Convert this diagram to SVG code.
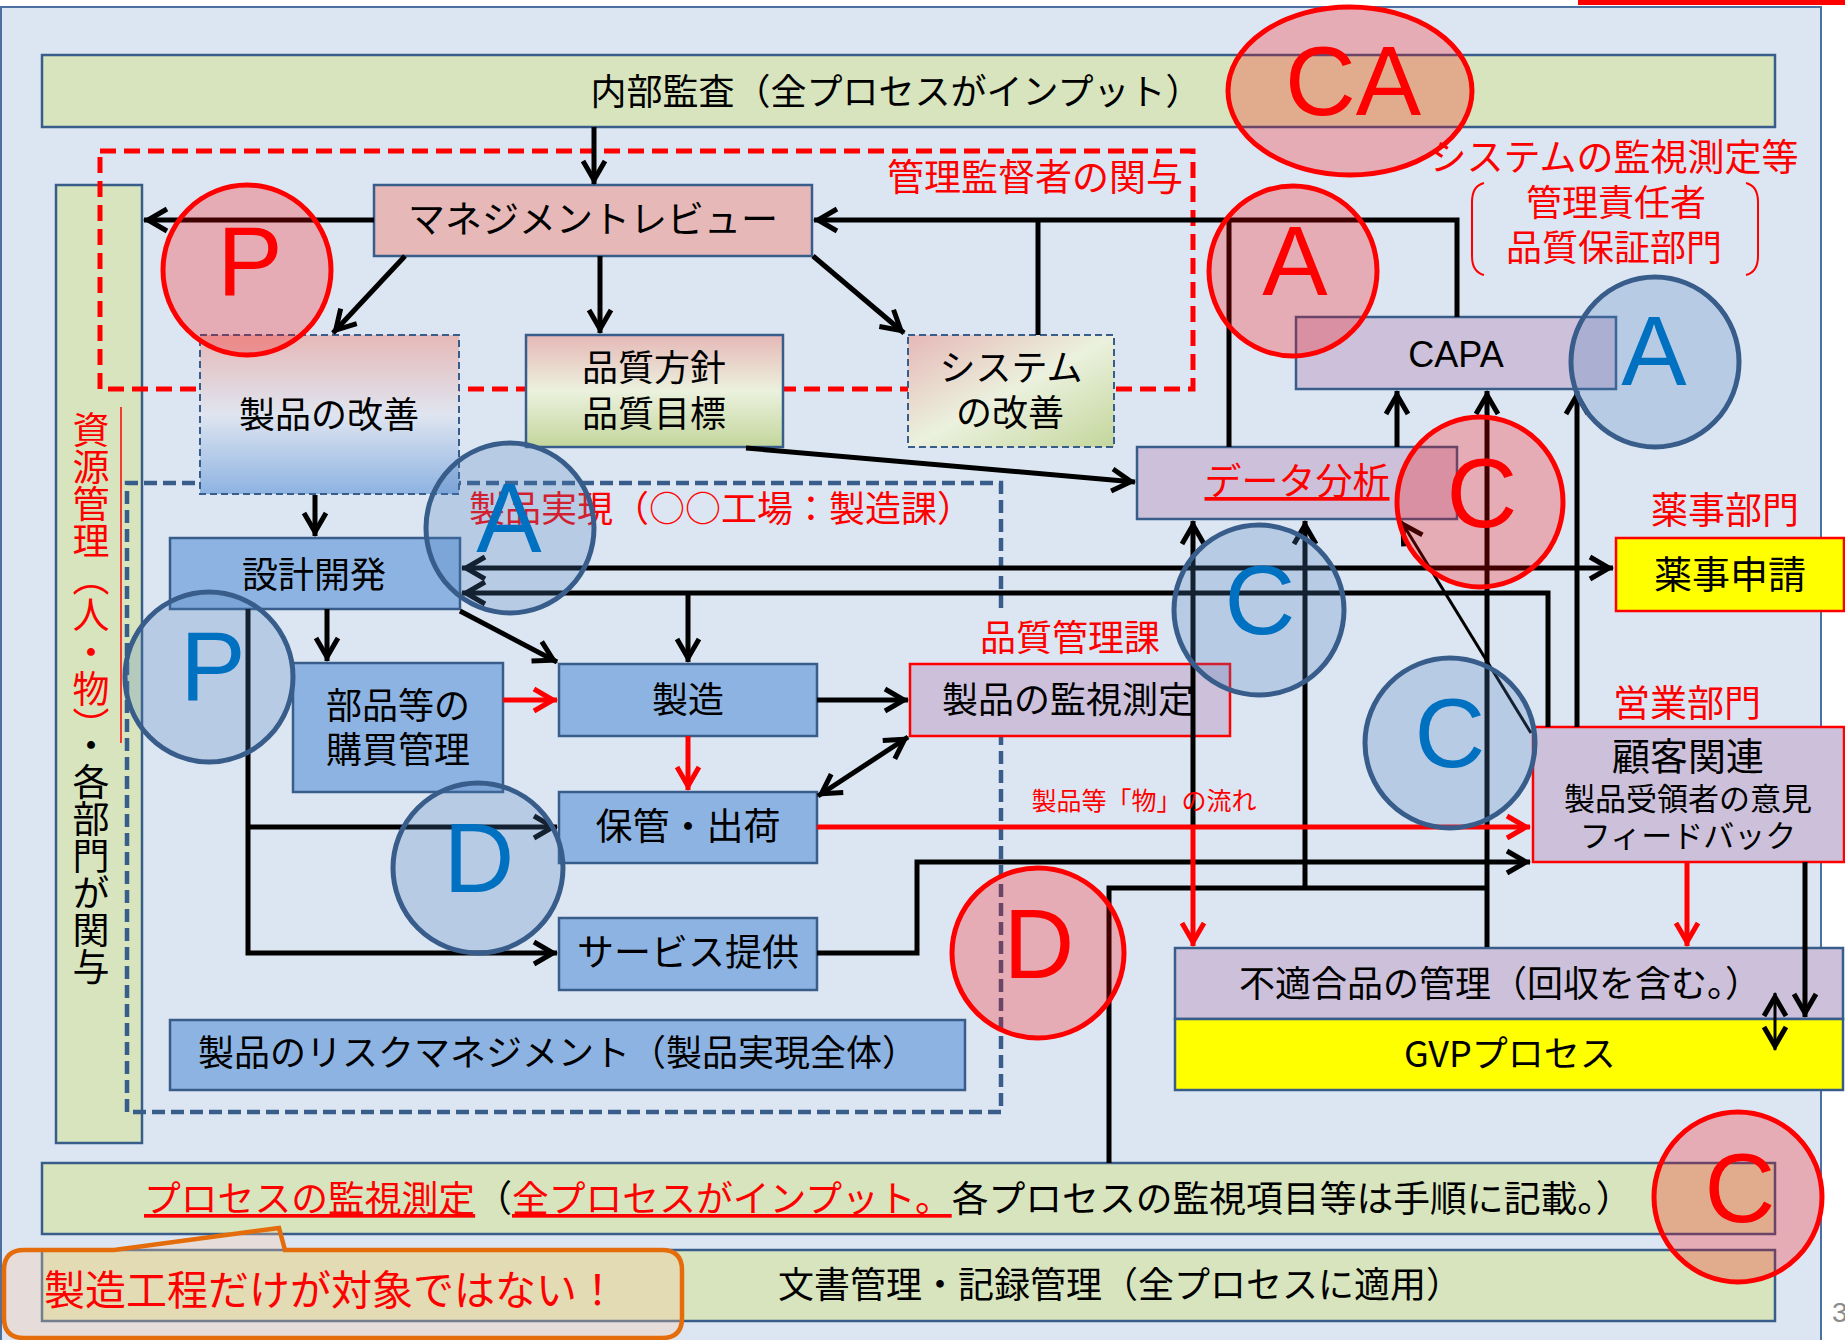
<svg xmlns="http://www.w3.org/2000/svg" width="1845" height="1340" viewBox="0 0 1845 1340">
<style>
.t{font-family:"Noto Sans CJK JP","Liberation Sans",sans-serif;font-size:36px;fill:#000;text-anchor:middle}
.r{fill:#f00}
.st{text-anchor:start}
.lat{font-family:"Liberation Sans",sans-serif}
.box{stroke:#385d8a;stroke-width:2.5}
.rb{stroke:#f00;stroke-width:2.5}
.blue{fill:#8db3e2}
.lav{fill:#ccc0da}
.grn{fill:#d7e4bd}
.yel{fill:#ffff00}
.ln{fill:none;stroke:#000;stroke-width:5}
.lt{fill:none;stroke:#000;stroke-width:3}
.lr{fill:none;stroke:#f00;stroke-width:5}
.cr{fill:#ff0000;fill-opacity:.25;stroke:#f00;stroke-width:5}
.cb{fill:#4f81bd;fill-opacity:.26;stroke:#385d8a;stroke-width:5}
.big{font-family:"Liberation Sans",sans-serif;font-size:98px;text-anchor:middle}
.bR{fill:#f00}
.bB{fill:#0070c0}
.ul{text-decoration:underline}
</style>
<defs>
<marker id="ah" viewBox="0 0 32 30" refX="26" refY="15" markerWidth="32" markerHeight="30" markerUnits="userSpaceOnUse" orient="auto-start-reverse"><path d="M3,4 L22,15 L3,26" fill="none" stroke="#000" stroke-width="5"/></marker>
<marker id="ahr" viewBox="0 0 32 30" refX="26" refY="15" markerWidth="32" markerHeight="30" markerUnits="userSpaceOnUse" orient="auto-start-reverse"><path d="M3,4 L22,15 L3,26" fill="none" stroke="#f00" stroke-width="5"/></marker>
<linearGradient id="gImp" x1="0" y1="0" x2="0" y2="1"><stop offset="0" stop-color="#e6b8b7"/><stop offset=".5" stop-color="#dfe5f0"/><stop offset="1" stop-color="#8db3e2"/></linearGradient>
<linearGradient id="gPol" x1="0" y1="0" x2="0" y2="1"><stop offset="0" stop-color="#e6b8b7"/><stop offset=".5" stop-color="#ebf1de"/><stop offset="1" stop-color="#c3d69b"/></linearGradient>
<linearGradient id="gSys" x1="0" y1="0" x2="1" y2="1"><stop offset="0" stop-color="#e6b8b7"/><stop offset=".5" stop-color="#ebf1de"/><stop offset="1" stop-color="#c3d69b"/></linearGradient>
</defs>
<rect width="1845" height="1340" fill="#fff"/>
<rect x="1578" y="0" width="267" height="5" fill="#f00"/>
<rect x="1" y="7" width="1820" height="1340" fill="#dce6f2" stroke="#4a6fa0" stroke-width="2"/>

<g id="resource">
<rect class="grn box" x="56" y="185" width="86" height="958"/>
<text class="t st" x="91" y="411" style="writing-mode:vertical-rl;font-size:37px"><tspan class="r">資源管理（人・物）</tspan><tspan>・各部門が関与</tspan></text>
<line x1="121" y1="407" x2="121" y2="743" stroke="#f00" stroke-width="1.5"/>
</g>

<g id="audit">
<rect class="grn box" x="42" y="55" width="1733" height="72"/>
<text class="t" x="896" y="105">内部監査（全プロセスがインプット）</text>
</g>

<g id="process-monitoring">
<rect class="grn box" x="42" y="1163" width="1733" height="71"/>
<text class="t st" x="144" y="1212" style="font-size:36.8px"><tspan class="r ul">プロセスの監視測定</tspan><tspan>（</tspan><tspan class="r ul">全プロセスがインプット。</tspan><tspan>各プロセスの監視項目等は手順に記載。）</tspan></text>
</g>

<g id="documents">
<rect class="grn box" x="42" y="1250" width="1733" height="71"/>
<text class="t" x="1120" y="1298">文書管理・記録管理（全プロセスに適用）</text>
</g>

<g id="management-frame">
<rect x="100" y="151" width="1093" height="238" fill="none" stroke="#f00" stroke-width="5" stroke-dasharray="16 8"/>
<text class="t r" x="1035" y="191" style="font-size:37px">管理監督者の関与</text>
</g>

<g id="realization-frame">
<path d="M1001,608 L1001,483 L127,483 L127,1112 L1001,1112 L1001,737" fill="none" stroke="#385d8a" stroke-width="4.5" stroke-dasharray="13 6"/>
<text class="t r" x="721" y="522">製品実現（○○工場：製造課）</text>
</g>

<g id="management-review">
<rect x="374" y="185" width="438" height="71" fill="#e6b8b7" class="box"/>
<text class="t" x="593" y="233" style="font-size:37px">マネジメントレビュー</text>
</g>

<g id="product-improvement">
<rect x="200" y="335" width="259" height="159" fill="url(#gImp)" stroke="#385d8a" stroke-width="2" stroke-dasharray="7 4"/>
<text class="t" x="329" y="428">製品の改善</text>
</g>

<g id="quality-policy">
<rect x="526" y="335" width="257" height="112" fill="url(#gPol)" class="box"/>
<text class="t" x="654" y="381">品質方針</text>
<text class="t" x="654" y="427">品質目標</text>
</g>

<g id="system-improvement">
<rect x="908" y="335" width="206" height="112" fill="url(#gSys)" stroke="#385d8a" stroke-width="2" stroke-dasharray="7 4"/>
<text class="t" x="1011" y="381">システム</text>
<text class="t" x="1010" y="426">の改善</text>
</g>

<g id="system-monitoring-label">
<text class="t r" x="1614" y="171" style="font-size:37px">システムの監視測定等</text>
<text class="t r" x="1616" y="216">管理責任者</text>
<text class="t r" x="1614" y="261">品質保証部門</text>
<path d="M1484,183 Q1472,186 1472,202 L1472,256 Q1472,272 1484,275" fill="none" stroke="#f00" stroke-width="2"/>
<path d="M1746,183 Q1758,186 1758,202 L1758,256 Q1758,272 1746,275" fill="none" stroke="#f00" stroke-width="2"/>
</g>

<g id="capa">
<rect class="lav box" x="1296" y="317" width="320" height="72"/>
<text class="t lat" x="1456" y="367">CAPA</text>
</g>

<g id="data-analysis">
<rect class="lav box" x="1137" y="447" width="320" height="72"/>
<text class="t r ul" x="1297" y="495" style="font-size:37px">データ分析</text>
</g>

<g id="design">
<rect class="blue box" x="170" y="538" width="290" height="71"/>
<text class="t" x="314" y="588">設計開発</text>
</g>

<g id="purchasing">
<rect class="blue box" x="293" y="663" width="210" height="129"/>
<text class="t" x="398" y="719">部品等の</text>
<text class="t" x="398" y="763">購買管理</text>
</g>

<g id="manufacturing">
<rect class="blue box" x="559" y="664" width="258" height="72"/>
<text class="t" x="688" y="713">製造</text>
</g>

<g id="storage">
<rect class="blue box" x="559" y="792" width="258" height="71"/>
<text class="t" x="688" y="840" style="font-size:37px">保管・出荷</text>
</g>

<g id="service">
<rect class="blue box" x="559" y="918" width="258" height="72"/>
<text class="t" x="688" y="966" style="font-size:37px">サービス提供</text>
</g>

<g id="risk">
<rect class="blue box" x="170" y="1020" width="795" height="70"/>
<text class="t" x="558" y="1066">製品のリスクマネジメント（製品実現全体）</text>
</g>

<g id="product-monitoring">
<text class="t r" x="1070" y="651">品質管理課</text>
<rect class="lav rb" x="910" y="664" width="320" height="72"/>
<text class="t" x="1068" y="713">製品の監視測定</text>
</g>

<g id="regulatory">
<text class="t r" x="1725" y="524" style="font-size:37px">薬事部門</text>
<rect class="yel rb" x="1616" y="538" width="228" height="73"/>
<text class="t" x="1730" y="588" style="font-size:38px">薬事申請</text>
</g>

<g id="customer">
<text class="t r" x="1687" y="717" style="font-size:37px">営業部門</text>
<rect class="lav rb" x="1533" y="727" width="311" height="135"/>
<text class="t" x="1688" y="770" style="font-size:38px">顧客関連</text>
<text class="t" x="1688" y="810" style="font-size:31px">製品受領者の意見</text>
<text class="t" x="1688" y="847" style="font-size:31px">フィードバック</text>
</g>

<g id="nonconforming">
<rect class="lav box" x="1175" y="948" width="668" height="71"/>
<text class="t" x="1500" y="997">不適合品の管理（回収を含む。）</text>
</g>

<g id="gvp">
<rect class="yel box" x="1175" y="1019" width="668" height="71"/>
<text class="t" x="1510" y="1067">GVPプロセス</text>
</g>

<g id="connectors">
<path class="ln" d="M594,127 L594,184" marker-end="url(#ah)"/>
<path class="ln" d="M374,220 L144,220" marker-end="url(#ah)"/>
<path class="ln" d="M405,256 L333,333" marker-end="url(#ah)"/>
<path class="ln" d="M600,256 L600,333" marker-end="url(#ah)"/>
<path class="ln" d="M813,256 L904,333" marker-end="url(#ah)"/>
<path class="ln" d="M1457,317 L1457,220 L814,220" marker-end="url(#ah)"/>
<path class="ln" d="M1038,335 L1038,220"/>
<path class="ln" d="M1229,447 L1229,220"/>
<path class="ln" d="M746,448 L1135,482" marker-end="url(#ah)"/>
<path class="ln" d="M1397,447 L1397,391" marker-end="url(#ah)"/>
<path class="ln" d="M1487,947 L1487,391" marker-end="url(#ah)"/>
<path class="ln" d="M1577,727 L1577,391" marker-end="url(#ah)"/>
<path class="ln" d="M1109,1163 L1109,888 L1487,888"/>
<path class="ln" d="M1305,888 L1305,521" marker-end="url(#ah)"/>
<path class="ln" d="M1193,827 L1193,521" marker-end="url(#ah)"/>
<path class="lt" d="M1531,733 L1401,521" marker-end="url(#ah)"/>
<path class="ln" d="M462,568 L1613,568" marker-start="url(#ah)" marker-end="url(#ah)"/>
<path class="ln" d="M1548,727 L1548,593 L462,593" marker-end="url(#ah)"/>
<path class="ln" d="M688,593 L688,662" marker-end="url(#ah)"/>
<path class="ln" d="M315,495 L315,536" marker-end="url(#ah)"/>
<path class="ln" d="M327,609 L327,661" marker-end="url(#ah)"/>
<path class="ln" d="M460,611 L557,662" marker-end="url(#ah)"/>
<path class="ln" d="M817,700 L908,700" marker-end="url(#ah)"/>
<path class="ln" d="M818,796 L908,737" marker-start="url(#ah)" marker-end="url(#ah)"/>
<path class="ln" d="M248,609 L248,953 L557,953" marker-end="url(#ah)"/>
<path class="ln" d="M248,827 L557,827" marker-end="url(#ah)"/>
<path class="ln" d="M817,953 L917,953 L917,862 L1530,862" marker-end="url(#ah)"/>
<path class="ln" d="M1805,862 L1805,1017" marker-end="url(#ah)"/>
<path class="lt" d="M1775,993 L1775,1050" marker-start="url(#ah)" marker-end="url(#ah)"/>
<path class="lr" d="M503,700 L557,700" marker-end="url(#ahr)"/>
<path class="lr" d="M688,736 L688,790" marker-end="url(#ahr)"/>
<path class="lr" d="M817,827 L1530,827" marker-end="url(#ahr)"/>
<path class="lr" d="M1193,827 L1193,946" stroke-width="3" marker-end="url(#ahr)"/>
<path class="lr" d="M1687,862 L1687,946" stroke-width="3" marker-end="url(#ahr)"/>
<text class="t r" x="1144" y="810" style="font-size:25px">製品等「物」の流れ</text>
</g>

<g id="pdca-marks">
<ellipse class="cr" cx="1350" cy="91" rx="122" ry="84"/>
<text class="big bR" x="1353" y="115">CA</text>
<ellipse class="cr" cx="247" cy="270" rx="84" ry="85"/>
<text class="big bR" x="250" y="295">P</text>
<ellipse class="cr" cx="1293" cy="271" rx="84" ry="85"/>
<text class="big bR" x="1295" y="295">A</text>
<ellipse class="cr" cx="1480" cy="502" rx="83" ry="85"/>
<text class="big bR" x="1482" y="527">C</text>
<ellipse class="cr" cx="1038" cy="953" rx="86" ry="85"/>
<text class="big bR" x="1039" y="978">D</text>
<ellipse class="cr" cx="1738" cy="1197" rx="84" ry="85"/>
<text class="big bR" x="1740" y="1222">C</text>
<ellipse class="cb" cx="1655" cy="362" rx="84" ry="85"/>
<text class="big bB" x="1654" y="385">A</text>
<ellipse class="cb" cx="510" cy="528" rx="84" ry="85"/>
<text class="big bB" x="509" y="552">A</text>
<ellipse class="cb" cx="209" cy="677" rx="84" ry="85"/>
<text class="big bB" x="213" y="700">P</text>
<ellipse class="cb" cx="478" cy="868" rx="85" ry="85"/>
<text class="big bB" x="479" y="892">D</text>
<ellipse class="cb" cx="1259" cy="610" rx="85" ry="85"/>
<text class="big bB" x="1260" y="634">C</text>
<ellipse class="cb" cx="1450" cy="743" rx="85" ry="85"/>
<text class="big bB" x="1450" y="767">C</text>
</g>

<g id="callout">
<path d="M24,1250 L114,1250 L279,1228 L285,1250 L662,1250 Q682,1250 682,1270 L682,1318 Q682,1338 662,1338 L24,1338 Q4,1338 4,1318 L4,1270 Q4,1250 24,1250 Z" fill="#ffc8a0" fill-opacity=".3" stroke="#e46c0a" stroke-width="4.5"/>
<text class="t r st" x="44" y="1305" style="font-size:41px">製造工程だけが対象ではない！</text>
</g>

<text x="1832" y="1322" font-family="Liberation Sans, sans-serif" font-size="28" fill="#8c8c8c">3</text>
</svg>
